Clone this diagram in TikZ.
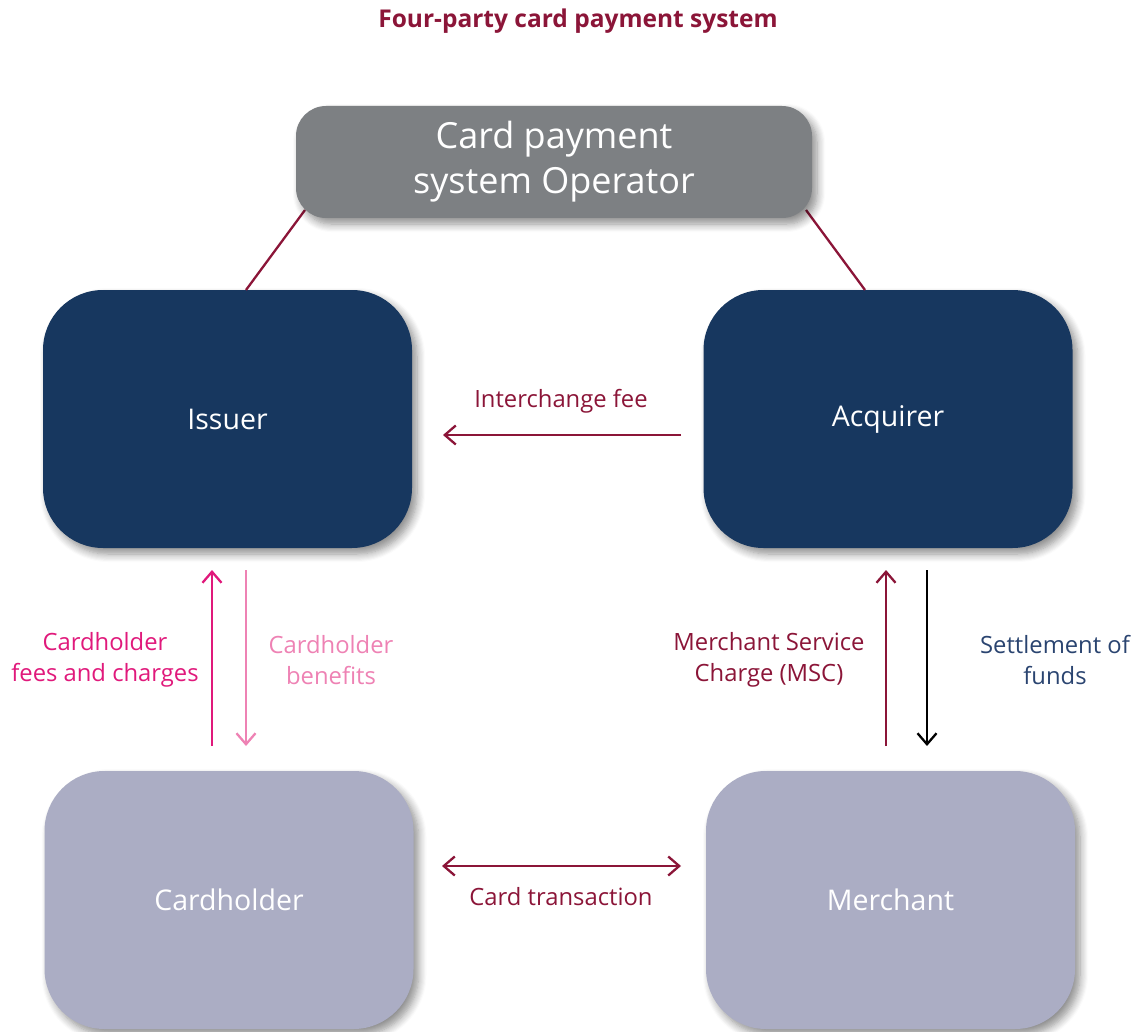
\documentclass[tikz,border=0pt]{standalone}
\usepackage{fontspec}
\setmainfont{Open Sans}
\usetikzlibrary{arrows.meta,shadows.blur}
\definecolor{wine}{HTML}{8B1538}
\definecolor{navy}{HTML}{17375F}
\definecolor{opgray}{HTML}{7D8083}
\definecolor{lav}{HTML}{ABADC4}
\definecolor{magenta}{HTML}{E0197B}
\definecolor{pinkl}{HTML}{EE82B4}
\definecolor{textnavy}{HTML}{2A4470}
\tikzset{
  box/.style={rounded corners=#1, inner sep=0pt, text=white,
    blur shadow={shadow xshift=5pt, shadow yshift=-6pt, shadow blur steps=8, shadow blur radius=8pt, shadow opacity=45}},
  opbox/.style={box=30pt, fill=opgray, minimum width=516pt, minimum height=112pt, align=center, font=\fontsize{36}{45}\selectfont},
  bigbox/.style={box=60pt, minimum width=369pt, minimum height=258pt, font=\fontsize{28.5}{32}\selectfont},
  lbl/.style={align=center, font=\fontsize{23.8}{31}\selectfont},
  barb/.tip={Straight Barb[length=11pt,width=19pt,line width=2.3pt]},
  flow/.style={line width=2.3pt, -barb},
}
\begin{document}
\begin{tikzpicture}[x=1pt,y=-1pt]
\useasboundingbox (0,0) rectangle (1148,1032);
\node[text=wine, font=\bfseries\fontsize{24.5}{28}\selectfont] (title) at (578,21) {Four-party card payment system};
\coordinate (opL) at (305,210);
\coordinate (opR) at (806,210);
\node[bigbox, fill=navy] (issuer) at (227.5,419) {Issuer};
\node[bigbox, fill=navy] (acq) at (888,419) {Acquirer};
\node[bigbox, fill=lav] (ch) at (229,900) {Cardholder};
\node[bigbox, fill=lav] (mer) at (890.5,900) {Merchant};
\draw[wine, line width=2.3pt] (opL) -- (246,290);
\draw[wine, line width=2.3pt] (opR) -- (865,290);
\node[opbox] (op) at (554,162) {Card payment\\system Operator};
% arrows
\coordinate (ifs) at (681,435); \coordinate (ife) at (443,435);
\draw[flow, wine] (ifs) -- (ife);
\node[lbl, text=wine] (iflbl) at (561,401) {Interchange fee};
\coordinate (cfs) at (212,746); \coordinate (cfe) at (212,570);
\draw[flow, magenta] (cfs) -- (cfe);
\node[lbl, text=magenta] (cflbl) at (105,660) {Cardholder\\fees and charges};
\coordinate (cbs) at (246,570); \coordinate (cbe) at (246,746);
\draw[flow, pinkl] (cbs) -- (cbe);
\node[lbl, text=pinkl] (cblbl) at (331,660) {Cardholder\\benefits};
\coordinate (ms) at (886,746); \coordinate (me) at (886,570);
\draw[flow, wine] (ms) -- (me);
\node[lbl, text=wine] (mlbl) at (769,660) {Merchant Service\\Charge (MSC)};
\coordinate (ss) at (927,570); \coordinate (se) at (927,746);
\draw[flow, black] (ss) -- (se);
\node[lbl, text=textnavy] (slbl) at (1055,660) {Settlement of\\funds};
\coordinate (ct1) at (442,866); \coordinate (ct2) at (681,866);
\draw[line width=2.3pt, wine, barb-barb] (ct1) -- (ct2);
\node[lbl, text=wine] (ctlbl) at (561,897) {Card transaction};
\end{tikzpicture}
\end{document}
